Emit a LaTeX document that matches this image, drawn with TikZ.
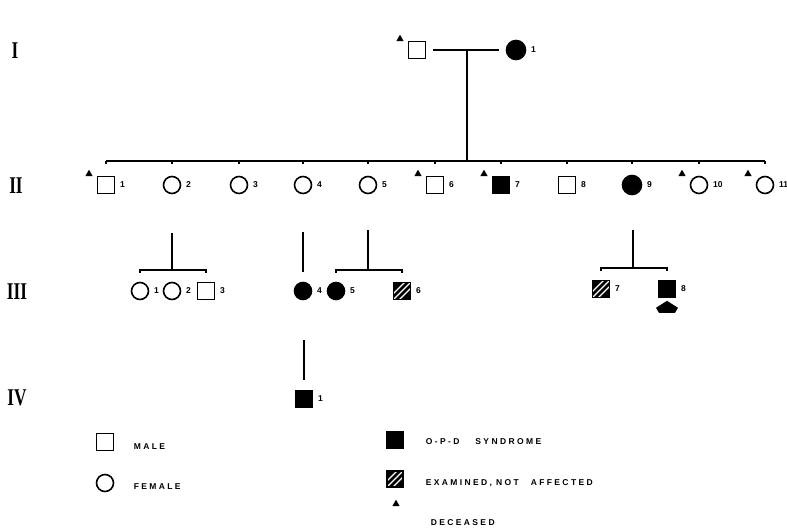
\documentclass[tikz,border=0pt]{standalone}
\usepackage{fontspec}
\newfontfamily\romfont{Liberation Serif}
\newfontfamily\numfont{Liberation Sans}
\newfontfamily\legfont{Liberation Sans}[LetterSpace=28]
\usetikzlibrary{shapes.geometric,calc}
\begin{document}
\begin{tikzpicture}[x=1pt,y=-1pt,line width=1.6pt,
  male/.style={draw,rectangle,minimum size=17pt,inner sep=0pt},
  female/.style={draw,circle,minimum size=17pt,inner sep=0pt},
  aff/.style={fill=black},
  hatched/.style={draw,rectangle,minimum size=17pt,inner sep=0pt,
    path picture={\fill[black] (path picture bounding box.south west) rectangle (path picture bounding box.north east);
      \foreach \t in {-6,0,6} \draw[white,line width=1.3pt] ([xshift=\t pt]path picture bounding box.south west) -- ++(45:30pt);}},
  dec/.style={fill=black,regular polygon,regular polygon sides=3,minimum size=8.5pt,inner sep=0pt},
  num/.style={font=\numfont\bfseries\fontsize{8.5}{9}\selectfont,inner sep=0pt},
  id/.style={label={[num,label distance=4pt]0:#1}},
  roman/.style={font=\romfont\bfseries\fontsize{24}{24}\selectfont,inner sep=0pt},
  leg/.style={font=\legfont\bfseries\fontsize{8.5}{9}\selectfont,inner sep=0pt,anchor=west}]
\useasboundingbox (0,0) rectangle (787,532);

% generation numerals
\node[roman] (gI) at (15,51) {\scalebox{0.72}[1]{I}};
\node[roman] (gII) at (16,186) {\scalebox{0.72}[1]{II}};
\node[roman] (gIII) at (17,292) {\scalebox{0.72}[1]{III}};
\node[roman] (gIV) at (17,398) {\scalebox{0.72}[1]{IV}};

% generation I
\node[male] (I1) at (417,50) {};
\node[female,aff,minimum size=19pt,id=1] (I2) at (516,50) {};
\node[dec] (dI1) at ([xshift=-17pt,yshift=11pt]I1.center) {};
\draw ([xshift=7pt]I1.east) -- ([xshift=-7pt]I2.west);
\coordinate (m1) at (467,50);

% generation II
\node[male,id=1] (II1) at (106,185) {};
\node[female,id=2] (II2) at (172,185) {};
\node[female,id=3] (II3) at (239,185) {};
\node[female,id=4] (II4) at (303,185) {};
\node[female,id=5] (II5) at (368,185) {};
\node[male,id=6] (II6) at (435,185) {};
\node[male,aff,id=7] (II7) at (501,185) {};
\node[male,id=8] (II8) at (567,185) {};
\node[female,aff,minimum size=19pt,id=9] (II9) at (632,185) {};
\node[female,id=10] (II10) at (699,185) {};
\node[female,id=11] (II11) at (765,185) {};
\foreach \n in {II1,II6,II7,II10,II11}
  \node[dec] (d\n) at ([xshift=-17pt,yshift=11pt]\n.center) {};
\coordinate (sL) at (106,161);
\coordinate (sR) at (765,161);
\draw (m1) -- (m1 |- sL);
\draw (sL) -- (sR);
\foreach \n in {II1,II2,II3,II4,II5,II6,II7,II8,II9,II10,II11}
  \draw (\n.north |- sL) -- ++(0,3);

% generation III
\node[female,id=1] (III1) at (140,291) {};
\node[female,id=2] (III2) at (172,291) {};
\node[male,id=3] (III3) at (206,291) {};
\node[female,aff,id=4] (III4) at (303,291) {};
\node[female,aff,id=5] (III5) at (336,291) {};
\node[hatched,id=6] (III6) at (402,291) {};
\node[hatched,id=7] (III7) at (601,289) {};
\node[male,aff,id=8] (III8) at (667,289) {};

\coordinate (f1) at (172,233); \coordinate (b1) at (172,270);
\draw (f1) -- (b1);
\draw ([yshift=-3pt]III1.north |- b1) -- (III1.north |- b1) -- (III3.north |- b1) -- ++(0,3);

\coordinate (f2) at (303,232);
\draw (f2) -- ([yshift=10pt]III4.north);

\coordinate (f3) at (368,230); \coordinate (b3) at (368,270);
\draw (f3) -- (b3);
\draw ([yshift=-3pt]III5.north |- b3) -- (III5.north |- b3) -- (III6.north |- b3) -- ++(0,3);

\coordinate (f4) at (633,230); \coordinate (b4) at (633,268);
\draw (f4) -- (b4);
\draw ([yshift=-3pt]III7.north |- b4) -- (III7.north |- b4) -- (III8.north |- b4) -- ++(0,3);

% proband arrow
\coordinate (pa) at ([yshift=-2.5pt]III8.south);
\fill (pa) -- ++(11,7) -- ++(-3,5) -- ++(-16,0) -- ++(-3,-5) -- cycle;

% generation IV
\node[male,aff,id=1] (IV1) at (304,399) {};
\coordinate (f5) at (304,340);
\draw (f5) -- ([yshift=10pt]IV1.north);

% legend
\node[male] (Lm) at (105,442) {};
\node[leg] (Lmt) at (133,447) {MALE};
\node[female] (Lf) at (105,483) {};
\node[leg] (Lft) at (133,487) {FEMALE};
\node[male,aff] (La) at (395,440) {};
\node[leg] (Lat) at (425,442) {O-P-D\hspace{16pt}SYNDROME};
\node[hatched,minimum size=16pt] (Lh) at (395,479) {};
\node[leg] (Lht) at (425,483) {EXAMINED,\hspace{4pt}NOT\hspace{12pt}AFFECTED};
\node[dec] (Ld) at (396,504) {};
\node[leg] (Ldt) at (430,523) {DECEASED};
\end{tikzpicture}
\end{document}
